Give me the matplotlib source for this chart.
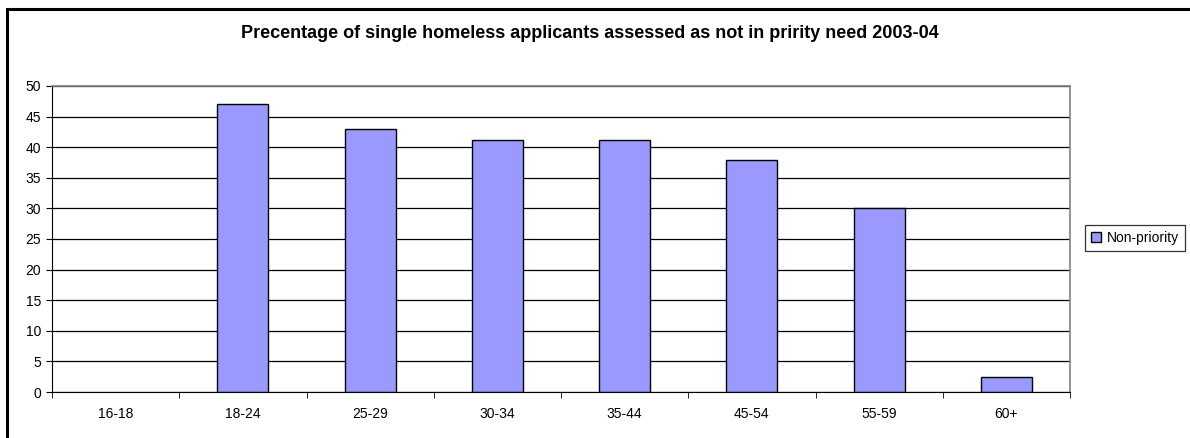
import matplotlib
matplotlib.use('Agg')
import matplotlib.pyplot as plt
from matplotlib.patches import Rectangle

plt.rcParams['font.family'] = ['Liberation Sans', 'DejaVu Sans']

# age bands and share assessed as non-priority (%)
age_bands = ['16-18', '18-24', '25-29', '30-34', '35-44', '45-54', '55-59', '60+']
non_priority = [0, 47, 43, 41.2, 41.2, 37.9, 30, 2.5]
y_ticks = list(range(0, 51, 5))

W, H = 1190, 438
fig = plt.figure(figsize=(W / 100, H / 100), dpi=100)

# chart frame; right and bottom edges run off the figure
fig.patches.append(Rectangle((7 / W, -0.1), 1.2, 1.1 - 9 / H, transform=fig.transFigure,
                             fill=False, edgecolor='black', linewidth=2.2))

ax = fig.add_axes([52 / W, 1 - 392 / H, (1070 - 52) / W, (392 - 86) / H])

x = range(len(age_bands))
bars = ax.bar(x, non_priority, width=0.4, color='#9999ff', edgecolor='black',
              linewidth=1, label='Non-priority', zorder=2)
for b, v in zip(bars, non_priority):
    if v == 0:
        b.set_visible(False)

ax.set_xlim(-0.5, len(age_bands) - 0.5)
ax.set_ylim(0, 50)
ax.set_yticks(y_ticks)
ax.set_xticks(x)
ax.set_xticklabels(age_bands, fontsize=10)
ax.set_xticks([i + 0.5 for i in range(-1, len(age_bands))], minor=True)
ax.tick_params(axis='x', which='major', length=0, pad=11)
ax.tick_params(axis='x', which='minor', length=4, direction='out', color='black')
ax.tick_params(axis='y', length=4, direction='out', labelsize=10, pad=4)
ax.yaxis.grid(True, color='black', linewidth=0.9, zorder=1)

for side in ['top', 'right']:
    ax.spines[side].set_color('#808080')
    ax.spines[side].set_linewidth(1.2)
ax.spines['left'].set_color('black')
ax.spines['bottom'].set_color('black')

fig.text(590 / W, 1 - 33 / H,
         'Precentage of single homeless applicants assessed as not in pririty need 2003-04',
         ha='center', va='center', fontsize=13, fontweight='bold')

leg = ax.legend(handles=[bars[1]], labels=['Non-priority'],
                loc='center left', bbox_to_anchor=(1085 / W, 1 - 238 / H),
                bbox_transform=fig.transFigure, fontsize=10, frameon=True,
                fancybox=False, edgecolor='black', handlelength=0.7, handleheight=0.7,
                handletextpad=0.4, borderpad=0.45, borderaxespad=0)
leg.get_frame().set_linewidth(0.9)

fig.savefig('out.png', dpi=100)
